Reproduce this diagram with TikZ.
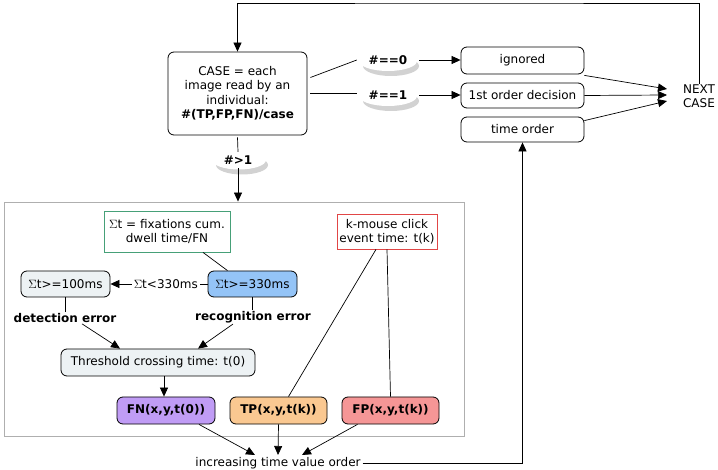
\documentclass[tikz,border=0pt]{standalone}
\usepackage{fontspec}
\setmainfont{DejaVu Sans}
\usetikzlibrary{arrows.meta}
\definecolor{boxgrey}{RGB}{237,242,244}
\definecolor{boxblue}{RGB}{148,196,247}
\definecolor{boxpurple}{RGB}{192,156,245}
\definecolor{boxorange}{RGB}{250,200,145}
\definecolor{boxpink}{RGB}{245,150,150}
\definecolor{bordergreen}{RGB}{70,160,120}
\definecolor{borderred}{RGB}{225,70,70}
\definecolor{framegrey}{RGB}{175,175,175}
\tikzset{
  every node/.style={font=\fontsize{12}{14.5}\selectfont, inner sep=1pt},
  rbox/.style={draw, rounded corners=6pt, line width=0.8pt, align=center},
  plainbox/.style={draw, line width=0.8pt, align=center},
  blabel/.style={font=\fontsize{12}{14}\selectfont\bfseries},
  arr/.style={-{Triangle[length=9pt,width=8pt]}, line width=0.7pt},
  ln/.style={line width=0.7pt},
  swoosh/.style={fill=gray!35}
}
\begin{document}
\begin{tikzpicture}[x=1pt,y=-1pt]
\useasboundingbox (0,0) rectangle (718,470);
% top part
\node[rbox, minimum width=139pt, minimum height=83pt] (case) at (237.5,93.5)
  {CASE = each\\image read by an\\individual:\\\textbf{\#(TP,FP,FN)/case}};
\node[rbox, minimum width=123pt, minimum height=27pt] (ignored) at (522.5,60.5) {ignored};
\node[rbox, minimum width=123pt, minimum height=25pt] (decision) at (522.5,95.5) {1st order decision};
\node[rbox, minimum width=123pt, minimum height=25pt] (timeorder) at (522.5,129.5) {time order};
\node[align=left, inner sep=0pt] (next) at (699,96) {NEXT\\CASE};
\coordinate (top) at (470,3);
\coordinate (in1) at (667,89);
\coordinate (in2) at (667,95);
\coordinate (in3) at (667,101);
% swoosh labels
\fill[swoosh] (391,66) ellipse [x radius=28, y radius=10];
\fill[white] (388,61) ellipse [x radius=29, y radius=10];
\fill[swoosh] (391,101) ellipse [x radius=28, y radius=10];
\fill[white] (388,96) ellipse [x radius=29, y radius=10];
\fill[swoosh] (242,165) ellipse [x radius=26, y radius=9.5];
\fill[white] (239,160) ellipse [x radius=27, y radius=9.5];
\node[blabel, minimum width=62pt] (h0) at (388,60) {\#==0};
\node[blabel, minimum width=62pt] (h1) at (388,95) {\#==1};
\node[blabel, minimum width=40pt, minimum height=16pt] (hgt) at (238,160) {\#>1};
% frame
\node[draw=framegrey, line width=0.9pt, minimum width=460pt, minimum height=234pt] (frame) at (234,319) {};
\node[plainbox, draw=bordergreen, minimum width=126pt, minimum height=41pt] (sigma) at (167,231.5) {$\Sigma$t = fixations cum.\\dwell time/FN};
\node[plainbox, draw=borderred, minimum width=100pt, minimum height=35pt] (kmouse) at (387,231.5) {k-mouse click\\event time: t(k)};
\node[rbox, fill=boxgrey, minimum width=89pt, minimum height=26pt] (s100) at (65.5,284) {$\Sigma$t>=100ms};
\node[rbox, fill=boxblue, minimum width=89pt, minimum height=26pt] (s330) at (252.5,284) {$\Sigma$t>=330ms};
\node[blabel] (deterr) at (65,318) {detection error};
\node[blabel] (recerr) at (253,317) {recognition error};
\node[rbox, fill=boxgrey, minimum width=194pt, minimum height=27pt] (thresh) at (158,362.5) {Threshold crossing time: t(0)};
\node[rbox, fill=boxpurple, minimum width=98pt, minimum height=27pt, font=\fontsize{12}{14}\selectfont\bfseries] (FN) at (166,410.5) {FN(x,y,t(0))};
\node[rbox, fill=boxorange, minimum width=97pt, minimum height=27pt, font=\fontsize{12}{14}\selectfont\bfseries] (TP) at (278.5,410.5) {TP(x,y,t(k))};
\node[rbox, fill=boxpink, minimum width=97pt, minimum height=27pt, font=\fontsize{12}{14}\selectfont\bfseries] (FP) at (390.5,410.5) {FP(x,y,t(k))};
\node[inner sep=2pt] (inc) at (278,463) {increasing time value order};
% connectors top
\draw[arr] (next.north) |- (top) -| (case.north);
\draw[ln] ([yshift=16pt,xshift=3pt]case.east) -- (h0.west);
\draw[arr] (h0.east) -- (h0.east -| ignored.west);
\draw[ln] ([xshift=3pt]case.east) -- (case.east -| h1.west);
\draw[arr] (h1.east) -- (h1.east -| decision.west);
\draw[ln] ([yshift=-2pt]case.south) -- (hgt.north);
\draw[arr] (hgt.south) -- (hgt.south |- frame.north);
\draw[arr] ([yshift=-1pt]ignored.south east) -- (in1);
\draw[arr] (decision.east) -- (in2);
\draw[arr] ([yshift=-4pt]timeorder.north east) -- (in3);
% connectors bottom
\draw[arr] (s330.west) -- node[pos=0.43, fill=white, inner sep=2pt] {$\Sigma$t<330ms} (s100.east);
\draw[ln] ([xshift=36pt]sigma.south) -- ([xshift=-25pt]s330.north);
\draw[ln] (s100.south) -- (s100.south |- deterr.north);
\draw[ln] (s330.south) -- (s330.south |- recerr.north);
\draw[arr] ([xshift=17pt]deterr.south) -- ([xshift=-38pt]thresh.north);
\draw[arr] ([xshift=-20pt]recerr.south) -- ([xshift=40pt]thresh.north);
\draw[arr] ([xshift=6pt]thresh.south) -- ([xshift=6pt]thresh.south |- FN.north);
\draw[ln] ([xshift=-11pt]kmouse.south) -- ([xshift=10pt]TP.north);
\draw[ln] (kmouse.south) -- (FP.north);
\draw[arr] ([xshift=33pt]FN.south) -- ([xshift=-23pt]inc.north);
\draw[arr] (TP.south) -- (inc.north);
\draw[arr] ([xshift=-33pt]FP.south) -- ([xshift=24pt]inc.north);
\draw[arr] (inc.east) -| (timeorder.south);
\end{tikzpicture}
\end{document}
